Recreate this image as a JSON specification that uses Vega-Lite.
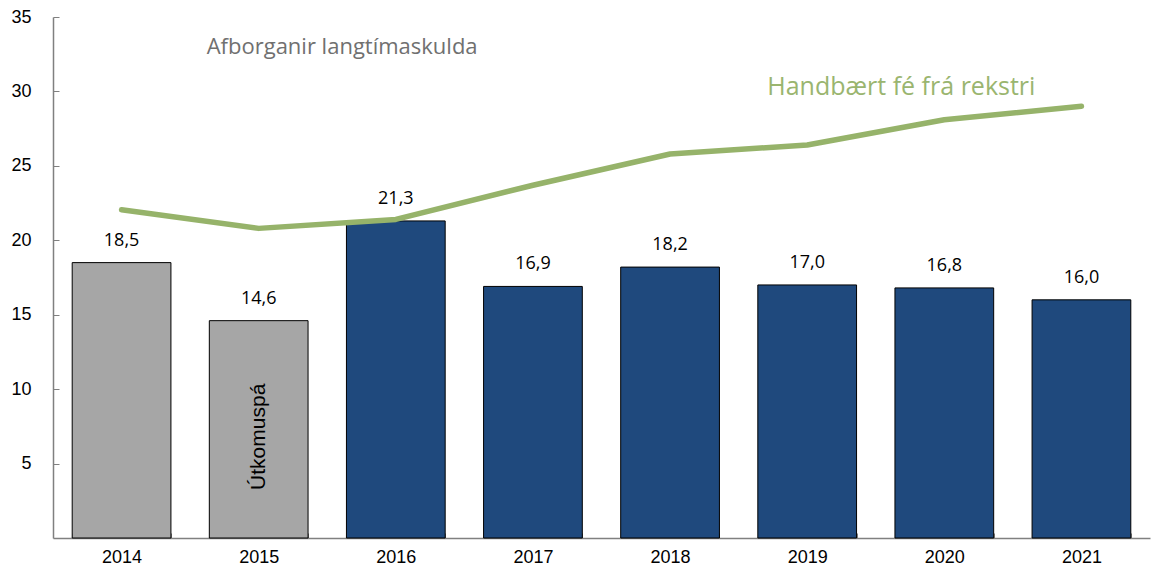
{
  "$schema": "https://vega.github.io/schema/vega-lite/v6.json",
  "width": 1151,
  "height": 571,
  "autosize": {"type": "fit", "contains": "padding"},
  "padding": {"left": 10, "top": 8, "right": 1, "bottom": 5},
  "background": "white",
  "config": {
    "view": {"stroke": null},
    "locale": {"number": {"decimal": ",", "thousands": ".", "grouping": [3], "currency": ["", " kr."]}}
  },
  "datasets": {
    "main": [
      {"year": "2014", "afborganir": 18.5, "handbaert": 22.05, "kind": "actual"},
      {"year": "2015", "afborganir": 14.6, "handbaert": 20.8, "kind": "actual"},
      {"year": "2016", "afborganir": 21.3, "handbaert": 21.4, "kind": "plan"},
      {"year": "2017", "afborganir": 16.9, "handbaert": 23.7, "kind": "plan"},
      {"year": "2018", "afborganir": 18.2, "handbaert": 25.8, "kind": "plan"},
      {"year": "2019", "afborganir": 17.0, "handbaert": 26.4, "kind": "plan"},
      {"year": "2020", "afborganir": 16.8, "handbaert": 28.1, "kind": "plan"},
      {"year": "2021", "afborganir": 16.0, "handbaert": 29.0, "kind": "plan"}
    ],
    "notes": [
      {"year": "2015", "value": 6.8, "label": "Útkomuspá"}
    ],
    "titles": [
      {"year": "2015", "value": 33.0, "label": "Afborganir langtímaskulda"},
      {"year": "2020", "value": 30.3, "label": "Handbært fé frá rekstri"}
    ]
  },
  "encoding": {
    "x": {
      "field": "year", "type": "ordinal",
      "scale": {"paddingInner": 0.28, "paddingOuter": 0.14},
      "axis": {
        "title": null, "labelAngle": 0, "labelFont": "Liberation Sans", "labelFontSize": 18,
        "labelColor": "#000", "labelPadding": 15, "tickBand": "extent", "tickSize": -5,
        "tickColor": "#808080", "domainColor": "#808080", "domainWidth": 1.5
      }
    }
  },
  "layer": [
    {
      "data": {"name": "main"},
      "mark": {"type": "bar", "stroke": "#000", "strokeWidth": 1},
      "encoding": {
        "y": {
          "field": "afborganir", "type": "quantitative",
          "scale": {"domain": [0, 35], "nice": false},
          "axis": {
            "title": null, "values": [5, 10, 15, 20, 25, 30, 35], "grid": false,
            "labelFont": "Liberation Sans", "labelFontSize": 18, "labelColor": "#000",
            "tickSize": -6, "tickColor": "#808080", "domainColor": "#808080", "domainWidth": 1.5,
            "labelPadding": 28
          }
        },
        "color": {
          "field": "kind", "type": "nominal",
          "scale": {"domain": ["actual", "plan"], "range": ["#a6a6a6", "#1f497d"]},
          "legend": null
        }
      }
    },
    {
      "data": {"name": "main"},
      "mark": {"type": "text", "baseline": "alphabetic", "dy": -17, "font": "Open Sans", "fontSize": 18, "color": "#000"},
      "encoding": {
        "y": {"field": "afborganir", "type": "quantitative"},
        "text": {"field": "afborganir", "type": "quantitative", "format": ".1f"}
      }
    },
    {
      "data": {"name": "main"},
      "mark": {"type": "line", "color": "#96b36a", "strokeWidth": 5.5, "strokeCap": "round", "strokeJoin": "round"},
      "encoding": {
        "y": {"field": "handbaert", "type": "quantitative"}
      }
    },
    {
      "data": {"name": "notes"},
      "mark": {"type": "text", "angle": 270, "font": "Liberation Sans", "fontSize": 21, "color": "#000", "align": "center", "baseline": "middle"},
      "encoding": {
        "y": {"field": "value", "type": "quantitative"},
        "text": {"field": "label"}
      }
    },
    {
      "data": {"name": "titles"},
      "transform": [{"filter": "datum.year == '2015'"}],
      "mark": {"type": "text", "align": "left", "baseline": "middle", "dx": -52, "font": "Open Sans", "fontSize": 22, "color": "#707070"},
      "encoding": {
        "y": {"field": "value", "type": "quantitative"},
        "text": {"field": "label"}
      }
    },
    {
      "data": {"name": "titles"},
      "transform": [{"filter": "datum.year == '2020'"}],
      "mark": {"type": "text", "align": "center", "baseline": "middle", "dx": -43, "font": "Open Sans", "fontSize": 25, "color": "#9ab56f"},
      "encoding": {
        "y": {"field": "value", "type": "quantitative"},
        "text": {"field": "label"}
      }
    }
  ]
}
